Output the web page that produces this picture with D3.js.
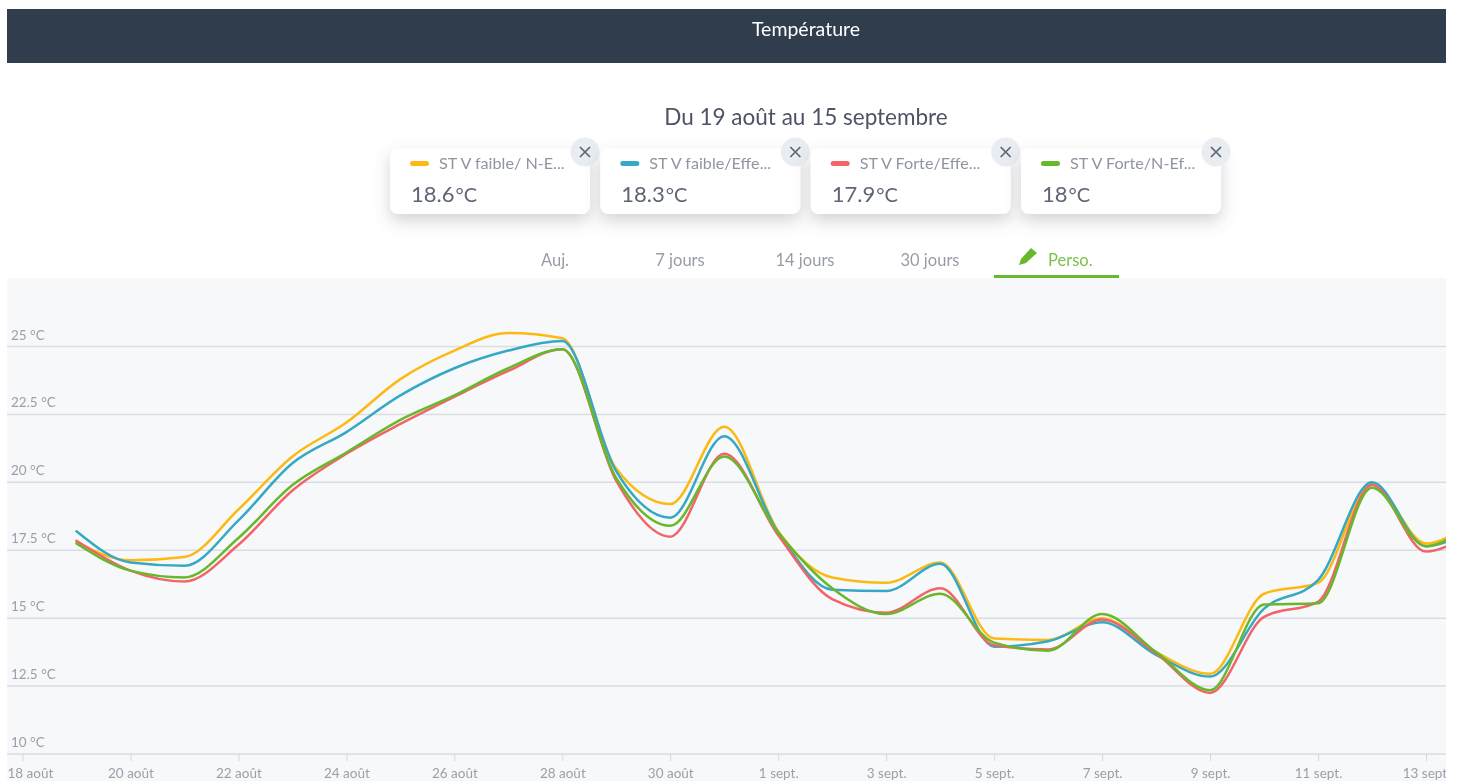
<!DOCTYPE html>
<html lang="fr">
<head>
<meta charset="utf-8">
<title>Température</title>
<script src="https://cdn.jsdelivr.net/npm/d3@7"></script>
<style>
html,body{margin:0;padding:0;background:#fff;overflow:hidden}
svg{display:block;font-family:Lato,"Open Sans",sans-serif;filter:blur(.5px)}
</style>
</head>
<body>
<svg id="c" width="1457" height="781"></svg>
<script>
const days = [1,2,3,4,5,6,7,8,9,10,11,12,13,14,15,16,17,18,19,20,21,22,23,24,25,26,27];
const yellowValues = [17.8,17.13,17.25,19.0,20.95,22.2,23.8,24.85,25.5,25.3,20.5,19.2,22.05,18.2,16.5,16.3,17.05,14.25,14.2,15.0,13.75,12.95,15.9,16.3,19.95,17.75,18.9];
const blueValues = [18.2,17.05,16.93,18.6,20.7,21.85,23.2,24.2,24.85,25.2,20.4,18.7,21.7,18.15,16.05,16.0,17.0,13.95,14.15,14.85,13.65,12.85,15.35,16.4,20.0,17.65,18.5];
const redValues = [17.85,16.75,16.35,17.7,19.7,21.05,22.15,23.15,24.1,24.9,20.05,18.0,21.05,18.05,15.7,15.2,16.1,14.0,13.85,14.95,13.7,12.25,15.05,15.6,19.9,17.45,18.45];
const greenValues = [17.75,16.75,16.5,17.95,19.9,21.1,22.3,23.2,24.2,24.9,20.15,18.4,20.95,18.15,16.1,15.15,15.9,14.1,13.8,15.15,13.75,12.35,15.5,15.55,19.8,17.65,18.85];

const seriesNames = ["ST V faible/ N-E...","ST V faible/Effe...","ST V Forte/Effe...","ST V Forte/N-Ef..."];
const seriesMeans = ["18.6","18.3","17.9","18"];
const seriesColors = ["#fdb913","#35a9c4","#f2646a","#68b82c"];
const seriesValues = [yellowValues,blueValues,redValues,greenValues];

const yTicks = [10,12.5,15,17.5,20,22.5,25];
const xTickDays = [0,2,4,6,8,10,12,14,16,18,20,22,24,26];
const xTickLabels = ["18 août","20 août","22 août","24 août","26 août","28 août","30 août","1 sept.","3 sept.","5 sept.","7 sept.","9 sept.","11 sept.","13 sept."];
const tabs = ["Auj.","7 jours","14 jours","30 jours"];

const svg = d3.select("#c");
const defs = svg.append("defs");
const shadow = defs.append("filter").attr("id","sh").attr("x","-20%").attr("y","-30%").attr("width","140%").attr("height","170%");
shadow.append("feDropShadow").attr("dx",0).attr("dy",7).attr("stdDeviation",8).attr("flood-color","#5b6270").attr("flood-opacity",.28);
defs.append("clipPath").attr("id","plot").append("rect").attr("x",7).attr("y",278).attr("width",1439).attr("height",503);

// header
svg.append("rect").attr("x",7).attr("y",9).attr("width",1439).attr("height",54).attr("fill","#2f3d4d");
svg.append("text").attr("x",806).attr("y",36).attr("text-anchor","middle").attr("fill","#fff").attr("font-size",19.5).text("Température");
svg.append("text").attr("x",806).attr("y",125).attr("text-anchor","middle").attr("fill","#4c5364").attr("font-size",22.5).text("Du 19 août au 15 septembre");

// cards
const cardX = d3.scaleLinear().domain([0,3]).range([390,1021]);
const card = svg.selectAll("g.card").data(seriesNames).join("g").attr("class","card")
  .attr("transform",(d,i)=>`translate(${cardX(i)},148)`);
card.append("rect").attr("width",200).attr("height",66).attr("rx",8).attr("fill","#fff").attr("filter","url(#sh)");
card.append("rect").attr("x",20).attr("y",13).attr("width",19).attr("height",5).attr("rx",2.5).attr("fill",(d,i)=>seriesColors[i]);
card.append("text").attr("x",49).attr("y",21).attr("font-size",16.2).attr("fill","#8f95a1").text(d=>d);
const val = card.append("text").attr("x",21).attr("y",54).attr("fill","#5e6575");
val.append("tspan").attr("font-size",22).text((d,i)=>seriesMeans[i]);
val.append("tspan").attr("font-size",20).attr("dx",1).text("°C");
const cl = card.append("g").attr("transform","translate(195,4)");
cl.append("circle").attr("r",14.5).attr("fill","#e9ecf0");
cl.append("path").attr("d","M-5,-5L5,5M5,-5L-5,5").attr("stroke","#5c6675").attr("stroke-width",1.7).attr("fill","none");

// tabs
const tabX = d3.scaleLinear().domain([0,3]).range([555,930]);
svg.selectAll("text.tab").data(tabs).join("text").attr("class","tab")
  .attr("x",(d,i)=>tabX(i)).attr("y",266).attr("text-anchor","middle").attr("font-size",16.5).attr("fill","#989ca6").text(d=>d);
svg.append("path").attr("d","M1019,265l2,-6l10,-11l6,5l-11,10z").attr("fill","#68b82c");
svg.append("text").attr("x",1048).attr("y",266).attr("font-size",16.5).attr("fill","#7cc24a").text("Perso.");

// plot
svg.append("rect").attr("x",7).attr("y",278).attr("width",1439).attr("height",503).attr("fill","#f7f8fa");
svg.append("rect").attr("x",994).attr("y",275).attr("width",125).attr("height",3).attr("fill","#68b82c");

const x = d3.scaleLinear().domain([0,26]).range([22.5,1426]);
const y = d3.scaleLinear().domain([10,25]).range([754,346.5]);

svg.append("g").selectAll("line").data(yTicks).join("line")
  .attr("x1",7).attr("x2",1446).attr("y1",d=>y(d)).attr("y2",d=>y(d))
  .attr("stroke","#d9dde3").attr("stroke-width",1.5);
svg.append("g").selectAll("text").data(yTicks).join("text")
  .attr("x",11).attr("y",d=>y(d)-7).attr("font-size",13.5).attr("fill","#9b9fa8")
  .text(d=>`${d} °C`);

const xAxis = d3.axisBottom(x).tickValues(xTickDays).tickSize(7).tickPadding(7)
  .tickFormat((d,i)=>xTickLabels[i]);
defs.append("clipPath").attr("id","xclip").append("rect").attr("x",0).attr("y",-5).attr("width",1446).attr("height",40);
const gx = svg.append("g").attr("transform","translate(0,754)").attr("clip-path","url(#xclip)").call(xAxis);
gx.select(".domain").remove();
gx.selectAll("line").attr("stroke","#d5d9df");
gx.selectAll("text").attr("fill","#9b9fa8").attr("font-size",13.5).attr("font-family","Lato,sans-serif");
gx.selectAll(".tick").filter((d,i)=>i===0).select("text").attr("text-anchor","start").attr("x",-15.5);

const line = d3.line().x((d,i)=>x(days[i])).y(d=>y(d)).curve(d3.curveMonotoneX);
svg.append("g").attr("clip-path","url(#plot)").selectAll("path").data(seriesValues).join("path")
  .attr("d",line).attr("fill","none").attr("stroke",(d,i)=>seriesColors[i]).attr("stroke-width",2.5)
  .attr("stroke-linejoin","round").attr("stroke-linecap","round");
</script>
</body>
</html>
